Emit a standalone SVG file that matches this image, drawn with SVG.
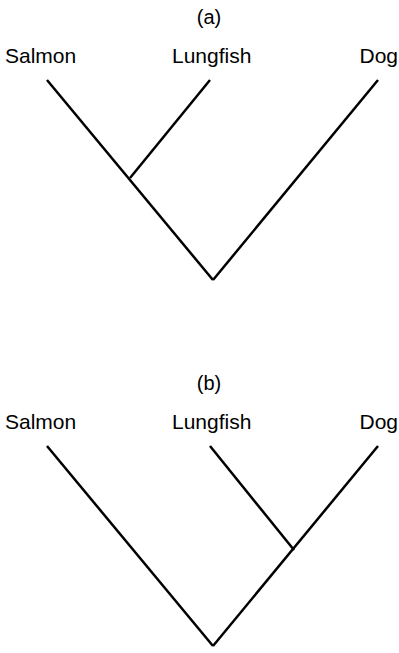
<svg xmlns="http://www.w3.org/2000/svg" width="399" height="653" viewBox="0 0 399 653">
<style>
text{font-family:"Liberation Sans",Arial,sans-serif;fill:#000}
.lbl{font-size:21px}
.ttl{font-size:20px;text-anchor:middle}
.br{stroke:#000;stroke-width:2.5;fill:none;stroke-linecap:butt}
</style>
<rect width="399" height="653" fill="#fff"/>
<text class="ttl" x="209" y="24">(a)</text>
<g id="a-salmon"><text class="lbl" x="5" y="63">Salmon</text></g>
<g id="a-lungfish"><text class="lbl" x="172" y="63">Lungfish</text></g>
<g id="a-dog"><text class="lbl" x="398" y="63" text-anchor="end">Dog</text></g>
<g id="a-edges">
<line class="br" x1="47" y1="80" x2="213" y2="280"/>
<line class="br" x1="210" y1="80" x2="130" y2="178"/>
<line class="br" x1="378" y1="80" x2="213" y2="280"/>
</g>
<text class="ttl" x="209" y="390">(b)</text>
<g id="b-salmon"><text class="lbl" x="5" y="429">Salmon</text></g>
<g id="b-lungfish"><text class="lbl" x="172" y="429">Lungfish</text></g>
<g id="b-dog"><text class="lbl" x="398" y="429" text-anchor="end">Dog</text></g>
<g id="b-edges">
<line class="br" x1="47" y1="446" x2="213" y2="646"/>
<line class="br" x1="210" y1="446" x2="294" y2="550"/>
<line class="br" x1="378" y1="446" x2="213" y2="646"/>
</g>
</svg>
